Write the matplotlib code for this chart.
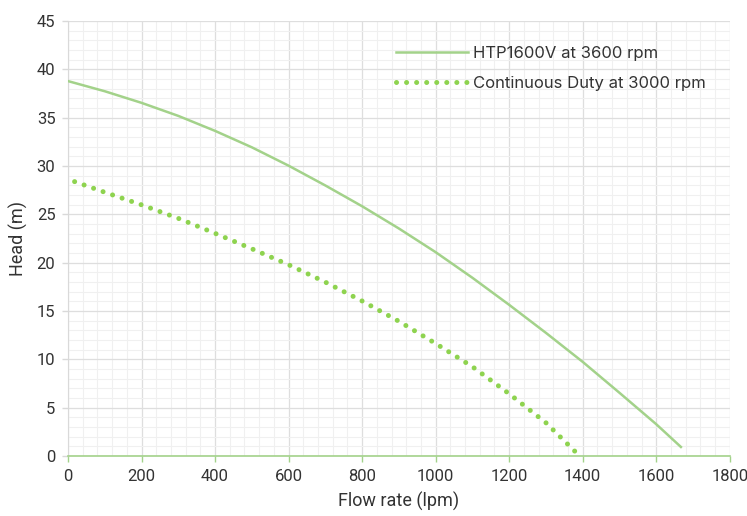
import matplotlib
matplotlib.use("Agg")
import matplotlib.pyplot as plt
from matplotlib.ticker import MultipleLocator
from matplotlib import font_manager

names = {f.name for f in font_manager.fontManager.ttflist}
cond = 'Liberation Sans Narrow' if 'Liberation Sans Narrow' in names else 'Roboto'

# Data
flow_solid = [0, 100, 200, 300, 400, 500, 600, 700, 800, 900, 1000, 1100, 1200, 1300, 1400, 1500, 1600, 1667]
head_solid = [38.8, 37.75, 36.55, 35.2, 33.65, 31.95, 30.05, 28.0, 25.85, 23.55, 21.1, 18.45, 15.65, 12.75, 9.75, 6.55, 3.3, 0.95]
flow_dot = [18, 100, 200, 300, 400, 500, 600, 700, 800, 900, 1000, 1100, 1200, 1300, 1392]
head_dot = [28.4, 27.3, 26.0, 24.6, 23.05, 21.45, 19.8, 18.0, 16.05, 13.95, 11.65, 9.25, 6.45, 3.45, 0.0]

series_labels = ["HTP1600V at 3600 rpm", "Continuous Duty at 3000 rpm"]
x_label = "Flow rate (lpm)"
y_label = "Head (m)"

fig = plt.figure(figsize=(7.47, 5.16), dpi=100)
ax = fig.add_axes([0.091, 0.116, 0.886, 0.843])

ax.plot(flow_solid, head_solid, color='#a3d28a', lw=1.8, label=series_labels[0], zorder=3)
ax.plot(flow_dot, head_dot, color='#8ed34f', lw=3.6, linestyle=(0, (0.01, 2.0)),
        dash_capstyle='round', label=series_labels[1], zorder=3)

ax.set_xlim(0, 1800)
ax.set_ylim(0, 45)
ax.xaxis.set_major_locator(MultipleLocator(200))
ax.xaxis.set_minor_locator(MultipleLocator(40))
ax.yaxis.set_major_locator(MultipleLocator(5))
ax.yaxis.set_minor_locator(MultipleLocator(1))
ax.grid(which='major', color='#dedede', lw=0.9, zorder=0)
ax.grid(which='minor', color='#f0f0f0', lw=0.8, zorder=0)
ax.set_axisbelow(True)

for s in ['top', 'right']:
    ax.spines[s].set_visible(False)
ax.spines['left'].set_color('#d9d9d9')
ax.spines['bottom'].set_color('#a3d28a')
ax.spines['bottom'].set_linewidth(1.2)

ax.tick_params(axis='x', which='major', colors='#a3d28a', length=4, width=1, labelcolor='#333333', labelsize=12, pad=5)
ax.tick_params(axis='y', which='major', colors='#d9d9d9', length=4, width=1, labelcolor='#333333', labelsize=12, pad=5)
ax.tick_params(which='minor', length=0)
for lab in ax.get_xticklabels() + ax.get_yticklabels():
    lab.set_fontfamily(cond)

ax.set_xlabel(x_label, fontsize=13, color='#333333', fontfamily=cond, labelpad=6)
ax.set_ylabel(y_label, fontsize=13, color='#333333', fontfamily=cond, labelpad=6)

leg = ax.legend(loc='upper left', bbox_to_anchor=(0.473, 0.978), frameon=False,
                handlelength=4.3, handletextpad=0.3, labelspacing=0.9,
                prop={'family': 'Inter', 'size': 12})
for t in leg.get_texts():
    t.set_color('#333333')

fig.savefig('out.png', dpi=100, facecolor='white')
